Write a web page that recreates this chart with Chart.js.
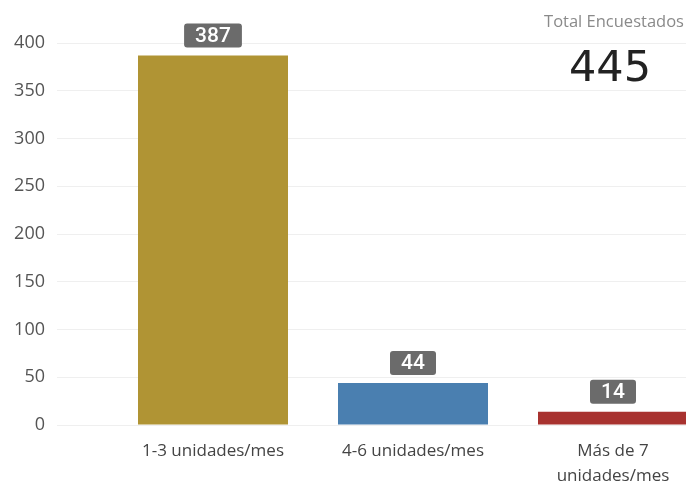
<!DOCTYPE html>
<html><head><meta charset="utf-8">
<script src="https://cdn.jsdelivr.net/npm/chart.js@4/dist/chart.umd.min.js"></script>
<style>
html,body{margin:0;padding:0;background:#fff;overflow:hidden;width:686px;height:487px;}
#wrap{position:relative;width:713px;height:487px;}
#total-title{position:absolute;left:534px;top:9px;width:160px;text-align:center;font-family:"Open Sans",sans-serif;font-size:16.5px;color:#8a8a8a;white-space:nowrap;}
#total-value{position:absolute;left:540px;top:38px;width:140px;text-align:center;font-family:"DejaVu Sans",sans-serif;font-size:43px;color:#222;line-height:56px;}
</style></head>
<body>
<div id="wrap">
<canvas id="c" width="713" height="487"></canvas>
<div id="total-title">Total Encuestados</div>
<div id="total-value">445</div>
</div>
<script>
const categories = ["1-3 unidades/mes", "4-6 unidades/mes", ["Más de 7", "unidades/mes"]];
const values = [387, 44, 14];
const barColors = ["#b09434", "#4a7fb0", "#a8322f"];
const yTicks = [0, 50, 100, 150, 200, 250, 300, 350, 400];

const labelPlugin = {
  id: 'valueBoxes',
  afterDatasetsDraw(chart) {
    const ctx = chart.ctx;
    const meta = chart.getDatasetMeta(0);
    ctx.save();
    ctx.font = '500 21px Roboto, "DejaVu Sans Condensed", sans-serif';
    ctx.textAlign = 'center';
    ctx.textBaseline = 'middle';
    meta.data.forEach((bar, i) => {
      const txt = String(values[i]);
      const w = Math.max(46, ctx.measureText(txt).width + 22);
      const h = 24;
      const cx = bar.x, cy = bar.y - 20;
      ctx.fillStyle = '#6b6b6b';
      ctx.beginPath();
      ctx.roundRect(cx - w/2, cy - h/2, w, h, 3);
      ctx.fill();
      ctx.fillStyle = '#ffffff';
      ctx.fillText(txt, cx, cy + 1);
    });
    ctx.restore();
  }
};

new Chart(document.getElementById('c'), {
  type: 'bar',
  data: {
    labels: categories,
    datasets: [{ data: values, backgroundColor: barColors, barPercentage: 0.75, categoryPercentage: 1.0 }]
  },
  options: {
    responsive: false,
    animation: false,
    layout: { padding: { top: 43, right: 0, left: 0, bottom: 0 } },
    plugins: { legend: { display: false }, tooltip: { enabled: false } },
    scales: {
      x: {
        grid: { display: false, drawTicks: false },
        border: { display: false },
        ticks: { color: '#444', font: { family: '"Open Sans", sans-serif', size: 17, lineHeight: 1.47 }, padding: 14, maxRotation: 0 },
        afterFit(s) { s.height = 62; }
      },
      y: {
        min: 0, max: 400,
        afterBuildTicks(s) { s.ticks = yTicks.map(v => ({ value: v })); },
        grid: { color: '#efefef', tickLength: 56, drawTicks: true },
        border: { display: false },
        ticks: { color: '#555', font: { family: '"Open Sans", sans-serif', size: 18 }, padding: 12 },
        afterFit(s) { s.width = 113; }
      }
    }
  },
  plugins: [labelPlugin]
});
</script>
</body></html>
